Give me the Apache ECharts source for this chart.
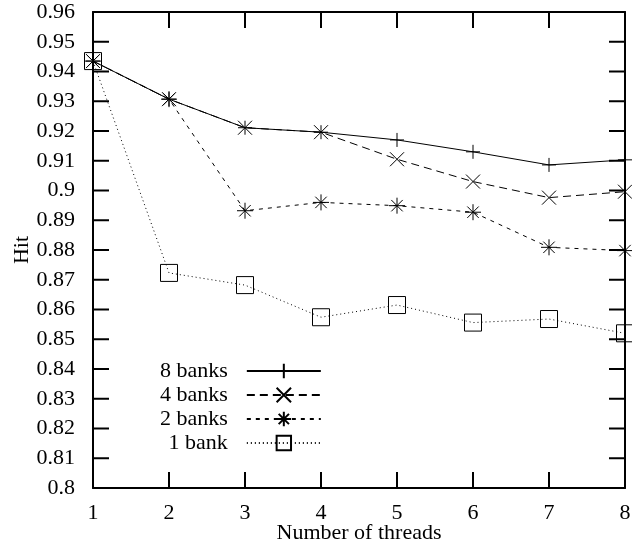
<!DOCTYPE html>
<html>
<head>
<meta charset="utf-8">
<script src="https://cdn.jsdelivr.net/npm/echarts@6/dist/echarts.min.js"></script>
<style>
  html, body { margin: 0; padding: 0; background: #fff; }
  #chart { width: 632px; height: 560px; }
</style>
</head>
<body>
<div id="chart"></div>
<script>
// threads on x, hit ratio on y
var threads = [1, 2, 3, 4, 5, 6, 7, 8]
var banks8 = [0.9435, 0.9307, 0.9211, 0.9196, 0.9170, 0.9130, 0.9086, 0.9103]
var banks4 = [0.9435, 0.9307, 0.9211, 0.9196, 0.9105, 0.9030, 0.8976, 0.8996]
var banks2 = [0.9435, 0.9307, 0.8932, 0.8960, 0.8949, 0.8927, 0.8809, 0.8798]
var banks1 = [0.9435, 0.8723, 0.8682, 0.8574, 0.8615, 0.8556, 0.8568, 0.8520]
var seriesNames = ['8 banks', '4 banks', '2 banks', '1 bank']
var yTicks = [0.80, 0.81, 0.82, 0.83, 0.84, 0.85, 0.86, 0.87, 0.88, 0.89, 0.90, 0.91, 0.92, 0.93, 0.94, 0.95, 0.96]

var font = 'Liberation Serif'
var fontSize = 22
var tickLen = 16

function pairs(ys) {
  return threads.map(function (x, i) { return [x, ys[i]] })
}

function makeSeries(name, ys, symbol, size, dash) {
  return {
    name: name,
    type: 'line',
    data: pairs(ys),
    symbol: symbol,
    symbolSize: size,
    showSymbol: true,
    clip: false,
    lineStyle: { color: '#000', width: 1, type: dash },
    itemStyle: { color: 'none', borderColor: '#000', borderWidth: 1 },
    emphasis: { disabled: true }
  }
}

function frameAxis(min, max, step, pos) {
  return {
    type: 'value',
    position: pos,
    min: min,
    max: max,
    interval: step,
    axisLine: { show: true, onZero: false, lineStyle: { color: '#000', width: 2 } },
    axisTick: { show: false },
    splitLine: { show: false },
    axisLabel: { show: false }
  }
}

var nameStyle = { fontFamily: font, fontSize: fontSize, color: '#000' }

var xBottom = frameAxis(1, 8, 1, 'bottom')
xBottom.name = 'Number of threads'
xBottom.nameLocation = 'middle'
xBottom.nameGap = 34
xBottom.nameMoveOverlap = false
xBottom.nameTextStyle = nameStyle
xBottom.axisLabel = { show: true, margin: 14, fontFamily: font, fontSize: fontSize, color: '#000' }

var yLeft = frameAxis(0.8, 0.96, 0.01, 'left')
yLeft.name = 'Hit'
yLeft.nameLocation = 'middle'
yLeft.nameGap = 60
yLeft.nameMoveOverlap = false
yLeft.nameRotate = 90
yLeft.nameTextStyle = nameStyle
yLeft.axisLabel = {
  show: true,
  margin: 18,
  fontFamily: font,
  fontSize: fontSize,
  color: '#000',
  formatter: function (v) { return String(+v.toFixed(2)) }
}

var chart = echarts.init(document.getElementById('chart'))
chart.setOption({
  animation: false,
  grid: { left: 93, right: 7, top: 12, bottom: 72, outerBoundsMode: 'none' },
  legend: {
    orient: 'vertical',
    align: 'right',
    left: 155,
    top: 355,
    itemWidth: 74,
    itemHeight: 18,
    itemGap: 2,
    textStyle: { fontFamily: font, fontSize: fontSize, color: '#000', padding: [0, 14, 0, 0] },
    data: seriesNames
  },
  xAxis: [xBottom, frameAxis(1, 8, 1, 'top')],
  yAxis: [yLeft, frameAxis(0.8, 0.96, 0.01, 'right')],
  series: [
    makeSeries(seriesNames[0], banks8, 'path://M5,0L5,10M0,5L10,5', 14, 'solid'),
    makeSeries(seriesNames[1], banks4, 'path://M0,0L10,10M10,0L0,10', 14, [8, 5]),
    makeSeries(seriesNames[2], banks2, 'path://M5,-2L5,12M-2,5L12,5M0,0L10,10M10,0L0,10', 16, [4, 5]),
    makeSeries(seriesNames[3], banks1, 'rect', 17, [1, 3])
  ]
})

// inward ticks on all four sides, placed through the axis scales
function tick(x1, y1, x2, y2) {
  return {
    type: 'line',
    silent: true,
    z: 10,
    shape: { x1: x1, y1: y1, x2: x2, y2: y2 },
    style: { stroke: '#000', lineWidth: 2 }
  }
}
function buildTicks() {
  var xLeft = chart.convertToPixel({ xAxisIndex: 0 }, threads[0])
  var xRight = chart.convertToPixel({ xAxisIndex: 0 }, threads[threads.length - 1])
  var yBottom = chart.convertToPixel({ yAxisIndex: 0 }, yTicks[0])
  var yTop = chart.convertToPixel({ yAxisIndex: 0 }, yTicks[yTicks.length - 1])
  var els = []
  yTicks.forEach(function (v) {
    var py = chart.convertToPixel({ yAxisIndex: 0 }, v)
    els.push(tick(xLeft, py, xLeft + tickLen, py))
    els.push(tick(xRight, py, xRight - tickLen, py))
  })
  threads.forEach(function (v) {
    var px = chart.convertToPixel({ xAxisIndex: 0 }, v)
    els.push(tick(px, yBottom, px, yBottom - tickLen))
    els.push(tick(px, yTop, px, yTop + tickLen))
  })
  return els
}
chart.setOption({ graphic: buildTicks() })
</script>
</body>
</html>
